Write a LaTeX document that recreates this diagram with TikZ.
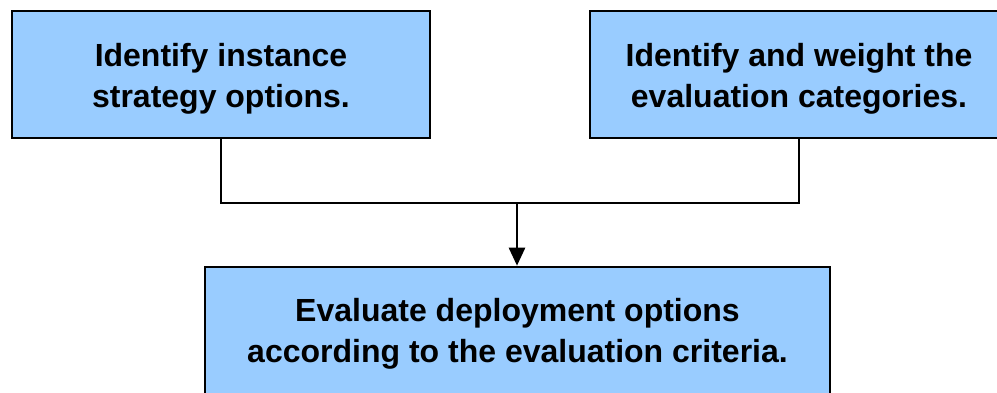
\documentclass[tikz,border=0pt]{standalone}
\usepackage{fontspec}
\setmainfont{Liberation Sans}
\usetikzlibrary{arrows.meta}
\definecolor{boxfill}{HTML}{99CCFF}
\tikzset{
  stepbox/.style={draw=black, line width=2.6pt, fill=boxfill, minimum width=418pt,
    minimum height=127pt, inner sep=0pt},
  steptext/.style={inner sep=0pt, align=center,
    font=\fontsize{32}{41}\selectfont\bfseries},
  link/.style={draw=black, line width=2.6pt},
}
\begin{document}
\begin{tikzpicture}[x=1pt,y=1pt]
  \useasboundingbox (0,0) rectangle (997,-392);
  \clip (0,0) rectangle (997,-392);
  % top row
  \node[stepbox] (opts) at (221,-74.5) {};
  \node[steptext] (optsText) at ([yshift=-4pt]opts.center) {Identify instance\\strategy options.};
  \node[stepbox] (cats) at (799,-74.5) {};
  \node[steptext] (catsText) at ([yshift=-4pt]cats.center) {Identify and weight the\\evaluation categories.};
  % bottom box
  \node[stepbox, minimum width=625pt] (eval) at (517.5,-330.5) {};
  \node[steptext] (evalText) at (517.5,-334) {Evaluate deployment options\\according to the evaluation criteria.};
  % joining connector
  \coordinate (join) at (517,-203);
  \draw[link] (opts.south -| 221,0) |- (join) -| (cats.south -| 799,0);
  \draw[link, -{Triangle[length=18pt,width=16pt]}] (join) -- (join |- eval.north);
\end{tikzpicture}
\end{document}
